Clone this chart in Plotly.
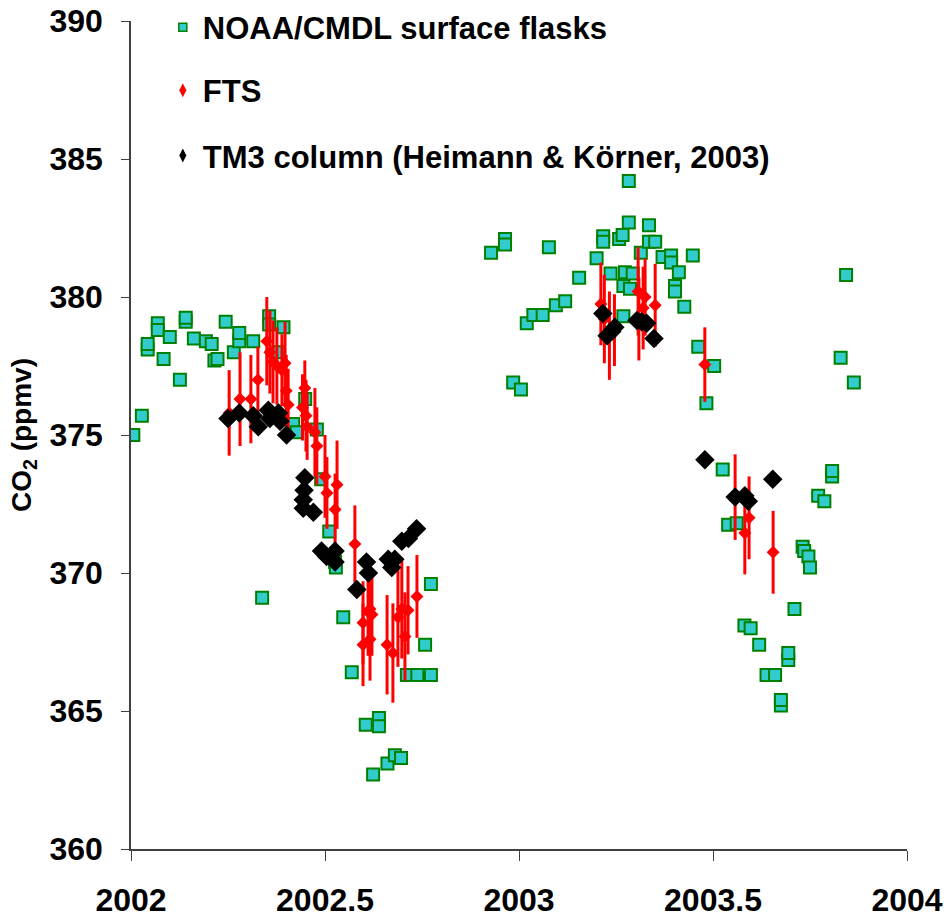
import plotly.graph_objects as go

# ---------------- data ----------------
noaa_x = [2002.006, 2002.028, 2002.043, 2002.043, 2002.069, 2002.069, 2002.084, 2002.100,
          2002.126, 2002.141, 2002.141, 2002.162, 2002.193, 2002.208, 2002.215, 2002.223,
          2002.244, 2002.265, 2002.279, 2002.279, 2002.315, 2002.338, 2002.356, 2002.356,
          2002.380, 2002.393, 2002.418, 2002.427, 2002.449, 2002.479, 2002.490, 2002.511,
          2002.526, 2002.528, 2002.547, 2002.569, 2002.605, 2002.639, 2002.639, 2002.624,
          2002.661, 2002.680, 2002.696, 2002.711, 2002.738, 2002.773, 2002.758, 2002.773,
          2002.928, 2002.964, 2002.964, 2002.985, 2003.005, 2003.020, 2003.037, 2003.061,
          2003.077, 2003.095, 2003.119, 2003.155, 2003.200, 2003.217, 2003.217, 2003.236,
          2003.258, 2003.267, 2003.273, 2003.283, 2003.283, 2003.293, 2003.269, 2003.286,
          2003.269, 2003.314, 2003.335, 2003.335, 2003.351, 2003.370, 2003.392, 2003.392,
          2003.402, 2003.402, 2003.412, 2003.426, 2003.448, 2003.462, 2003.503, 2003.483,
          2003.525, 2003.539, 2003.561, 2003.581, 2003.597, 2003.619, 2003.638, 2003.660,
          2003.675, 2003.675, 2003.694, 2003.694, 2003.710, 2003.731, 2003.735, 2003.746,
          2003.750, 2003.771, 2003.787, 2003.807, 2003.807, 2003.829, 2003.843, 2003.863]
noaa_y = [375.0, 375.7, 378.1, 378.3, 379.05, 378.8, 377.75, 378.55,
          377.0, 379.1, 379.25, 378.5, 378.4, 378.3, 377.7, 377.75,
          379.1, 378.0, 378.4, 378.7, 378.4, 369.1, 379.3, 379.0,
          378.0, 378.9, 375.4, 375.1, 376.3, 375.2, 373.4, 371.5,
          370.4, 370.2, 368.4, 366.4, 364.5, 364.75, 364.45, 362.7,
          363.1, 363.4, 363.3, 366.3, 366.3, 366.3, 367.4, 369.6,
          381.6, 382.1, 381.9, 376.9, 376.65, 379.05, 379.35, 379.35,
          381.8, 379.7, 379.85, 380.7, 381.4, 382.2, 382.0, 380.85,
          382.1, 382.25, 380.9, 384.2, 382.7, 380.85, 380.4, 380.3,
          379.3, 381.6, 382.6, 382.0, 382.0, 381.45, 381.5, 381.25,
          380.4, 380.2, 380.9, 379.65, 381.5, 378.2, 377.5, 376.15,
          373.75, 371.75, 371.8, 368.1, 368.0, 367.4, 366.3, 366.3,
          365.2, 365.4, 366.85, 367.1, 368.7, 370.95, 370.8, 370.6,
          370.2, 372.8, 372.6, 373.5, 373.7, 377.8, 380.8, 376.9]

fts_x = [2002.253, 2002.281, 2002.309, 2002.327, 2002.350, 2002.358, 2002.366, 2002.376,
         2002.389, 2002.397, 2002.400, 2002.405, 2002.448, 2002.442, 2002.451, 2002.454,
         2002.474, 2002.479, 2002.500, 2002.505, 2002.531, 2002.526, 2002.577, 2002.611,
         2002.616, 2002.598, 2002.621, 2002.616, 2002.598, 2002.660, 2002.675, 2002.688,
         2002.698, 2002.714, 2002.706, 2002.737,
         2003.211, 2003.220, 2003.233, 2003.246, 2003.307, 2003.309, 2003.325, 2003.320,
         2003.351, 2003.479, 2003.557, 2003.593, 2003.582, 2003.655]
fts_y = [375.8, 376.3, 376.3, 377.0, 378.4, 378.0, 377.65, 377.5,
         377.35, 377.6, 376.6, 376.1, 376.7, 376.0, 375.7, 375.3,
         375.1, 374.6, 373.5, 372.9, 373.2, 372.3, 371.05, 368.6,
         368.7, 368.2, 368.5, 367.6, 367.4, 367.4, 367.1, 368.4,
         368.7, 368.65, 367.7, 369.15,
         379.75, 379.2, 378.6, 378.8, 380.2, 379.2, 380.0, 379.6,
         379.7, 377.55, 372.75, 372.0, 371.45, 370.75]
fts_err = [1.55, 1.7, 1.6, 1.2, 1.6, 1.5, 1.5, 1.4,
           1.3, 1.5, 1.3, 1.3, 1.0, 1.2, 1.3, 1.2,
           1.6, 1.4, 1.5, 1.3, 1.6, 1.3, 1.4, 1.6,
           1.3, 1.5, 1.5, 1.5, 1.5, 1.8, 1.8, 1.8,
           1.8, 1.6, 1.6, 1.5,
           1.5, 1.6, 1.6, 1.3, 1.6, 1.5, 1.4, 1.5,
           1.5, 1.35, 1.55, 1.5, 1.5, 1.5]

tm3_x = [2002.250, 2002.279, 2002.315, 2002.328, 2002.354, 2002.358, 2002.380, 2002.384,
         2002.401, 2002.448, 2002.446, 2002.444, 2002.444, 2002.470, 2002.491, 2002.504,
         2002.526, 2002.526, 2002.582, 2002.607, 2002.612, 2002.663, 2002.680, 2002.672,
         2002.698, 2002.715, 2002.736,
         2003.216, 2003.239, 2003.227, 2003.247, 2003.316, 2003.329, 2003.304, 2003.348,
         2003.479, 2003.557, 2003.582, 2003.591, 2003.654]
tm3_y = [375.6, 375.8, 375.7, 375.3, 375.9, 375.6, 375.8, 375.5,
         375.0, 373.45, 373.0, 372.65, 372.35, 372.2, 370.8, 370.6,
         370.8, 370.4, 369.4, 370.4, 370.0, 370.5, 370.5, 370.2,
         371.15, 371.25, 371.6,
         379.4, 378.75, 378.6, 378.9, 379.1, 379.05, 379.15, 378.5,
         374.1, 372.75, 372.8, 372.6, 373.4]

series_names = ["NOAA/CMDL surface flasks", "FTS", "TM3 column (Heimann & Körner, 2003)"]
x_ticks = [2002, 2002.5, 2003, 2003.5, 2004]
x_tick_text = ["2002", "2002.5", "2003", "2003.5", "2004"]
y_ticks = [360, 365, 370, 375, 380, 385, 390]

FONT = "Liberation Sans, Arial, sans-serif"
SQ_FILL = "#33CCCC"
SQ_LINE = "#008000"

fig = go.Figure()

# data traces
fig.add_trace(go.Scatter(
    x=noaa_x, y=noaa_y, mode="markers", showlegend=False,
    marker=dict(symbol="square", size=12, color=SQ_FILL, line=dict(color=SQ_LINE, width=2)),
))
fig.add_trace(go.Scatter(
    x=fts_x, y=fts_y, mode="markers", showlegend=False,
    marker=dict(symbol="diamond", size=10, color="#FF0000"),
    error_y=dict(type="data", array=fts_err, color="#FF0000", thickness=3, width=0),
))
fig.add_trace(go.Scatter(
    x=tm3_x, y=tm3_y, mode="markers", showlegend=False,
    marker=dict(symbol="diamond", size=15, color="#000000"),
))

# legend entries
fig.add_trace(go.Scatter(
    x=[None], y=[None], mode="markers", name=series_names[0], legend="legend",
    marker=dict(symbol="square", size=8, color=SQ_FILL, line=dict(color=SQ_LINE, width=1.5)),
))
fig.add_trace(go.Scatter(
    x=[None], y=[None], mode="markers", name=series_names[1], legend="legend2",
    marker=dict(symbol="diamond-tall", size=10, color="#FF0000"),
))
fig.add_trace(go.Scatter(
    x=[None], y=[None], mode="markers", name=series_names[2], legend="legend3",
    marker=dict(symbol="diamond-tall", size=10, color="#000000"),
))

leg_common = dict(font=dict(family=FONT, size=31, color="#000000", weight="bold"),
                  bgcolor="rgba(0,0,0,0)", borderwidth=0, itemsizing="trace",
                  xanchor="left", yanchor="middle", x=0.041)

fig.update_layout(
    width=944, height=917,
    margin=dict(l=131, r=37, t=21, b=68, autoexpand=False),
    paper_bgcolor="white", plot_bgcolor="white",
    font=dict(family=FONT, color="#000000"),
    legend=dict(**leg_common, y=0.992),
    legend2=dict(**leg_common, y=0.916),
    legend3=dict(**leg_common, y=0.837),
    xaxis=dict(
        range=[2002, 2004], tickvals=x_ticks, ticktext=x_tick_text, automargin=False,
        showgrid=False, zeroline=False, showline=True, linecolor="#404040", linewidth=1.5,
        ticks="outside", ticklen=10, tickwidth=1, tickcolor="#404040",
        tickfont=dict(family=FONT, size=32, color="#000000", weight="bold"),
        ticklabelstandoff=12,
    ),
    yaxis=dict(
        range=[360, 390], tickvals=y_ticks, automargin=False,
        showgrid=False, zeroline=False, showline=True, linecolor="#404040", linewidth=1.5,
        ticks="outside", ticklen=8, tickwidth=1, tickcolor="#404040",
        tickfont=dict(family=FONT, size=32, color="#000000", weight="bold"),
        ticklabelstandoff=12,
        title=dict(text="CO<sub>2</sub> (ppmv)", font=dict(family=FONT, size=28, color="#000000", weight="bold"), standoff=10),
    ),
)

fig.write_html("out.html")
